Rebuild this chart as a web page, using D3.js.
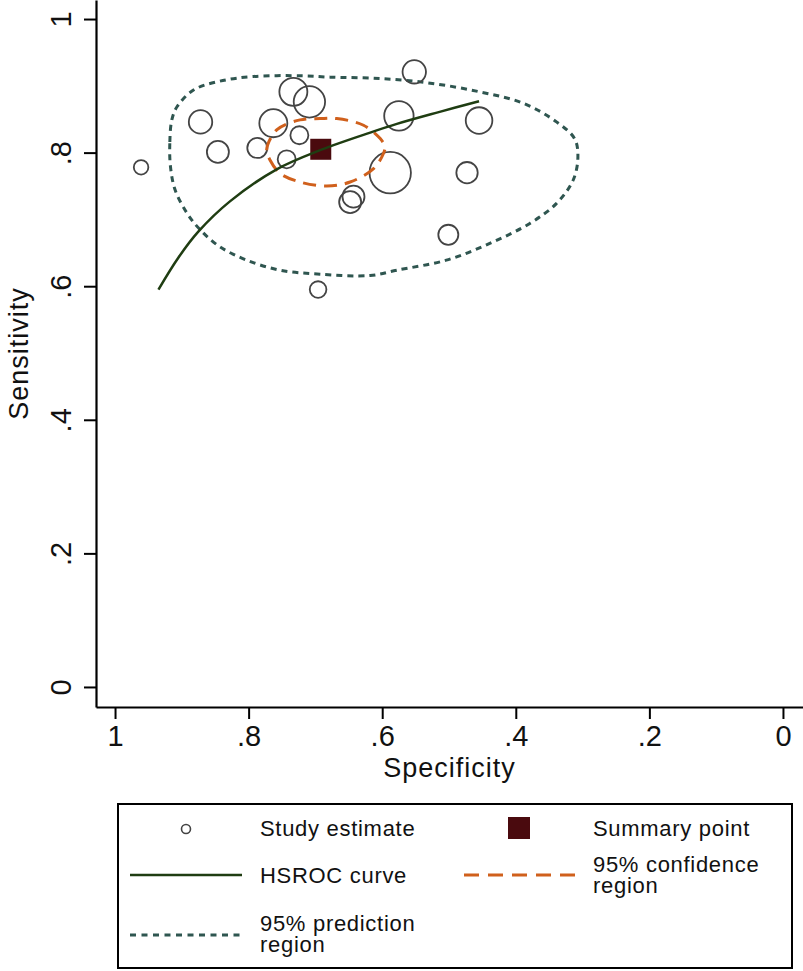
<!DOCTYPE html>
<html>
<head>
<meta charset="utf-8">
<script src="https://cdn.jsdelivr.net/npm/d3@7"></script>
<style>
  html, body { margin: 0; padding: 0; background: #fff; }
  svg { display: block; font-family: "Liberation Sans", Arial, Helvetica, sans-serif; }
</style>
</head>
<body>
<svg id="chart" width="803" height="971"></svg>
<script>
// ---------- data ----------
const studySpec = [0.872, 0.846, 0.961, 0.787, 0.763, 0.733, 0.709, 0.724, 0.743, 0.648, 0.643, 0.696, 0.552, 0.575, 0.455, 0.588, 0.473, 0.501];
const studySens = [0.846, 0.801, 0.778, 0.807, 0.844, 0.891, 0.876, 0.826, 0.790, 0.726, 0.734, 0.595, 0.921, 0.855, 0.848, 0.770, 0.770, 0.677];
const studyWeight = [137, 121, 53, 100, 196, 196, 246, 81, 81, 121, 121, 69, 137, 216, 177, 428, 114, 100];

const summarySpec = 0.692;
const summarySens = 0.805;

const hsrocSpec = [0.935, 0.905, 0.875, 0.828, 0.758, 0.692, 0.618, 0.578, 0.514, 0.455];
const hsrocSens = [0.595, 0.643, 0.682, 0.727, 0.775, 0.804, 0.830, 0.843, 0.861, 0.877];

const confSpec = [0.773, 0.768, 0.753, 0.723, 0.683, 0.648, 0.613, 0.598, 0.596, 0.603, 0.628, 0.668, 0.693, 0.723, 0.758];
const confSens = [0.804, 0.789, 0.769, 0.756, 0.750, 0.756, 0.776, 0.799, 0.809, 0.821, 0.841, 0.851, 0.851, 0.849, 0.834];

const predSpec = [0.915, 0.918, 0.917, 0.910, 0.892, 0.872, 0.843, 0.803, 0.753, 0.693, 0.618, 0.578, 0.504, 0.439, 0.379, 0.339, 0.314, 0.307, 0.312, 0.339, 0.389, 0.454, 0.528, 0.603, 0.678, 0.718, 0.793, 0.843, 0.882, 0.907];
const predSens = [0.849, 0.814, 0.779, 0.744, 0.709, 0.684, 0.659, 0.639, 0.624, 0.618, 0.616, 0.624, 0.639, 0.664, 0.694, 0.724, 0.759, 0.794, 0.821, 0.846, 0.874, 0.891, 0.904, 0.911, 0.913, 0.915, 0.914, 0.907, 0.894, 0.869];

const tickValues = [1, 0.8, 0.6, 0.4, 0.2, 0];
const tickLabels = ["1", ".8", ".6", ".4", ".2", "0"];

const legendLabels = ["Study estimate", "Summary point", "HSROC curve", ["95% confidence", "region"], ["95% prediction", "region"]];

// ---------- styles ----------
const C_PRED = "#2f5650";
const C_HSROC = "#1f3d12";
const C_CONF = "#d0601c";
const C_SUMM = "#4a0a0e";
const C_STUDY = "#444444";

const svg = d3.select("#chart");

const x = d3.scaleLinear().domain([1.0285, -0.03]).range([96, 803]);
const y = d3.scaleLinear().domain([-0.03, 1.0285]).range([707, 0]);
const r = d3.scaleSqrt().domain([0, d3.max(studyWeight)]).range([0, 20.7]);

const fmt = v => tickLabels[tickValues.indexOf(v)];

// x axis
const gx = svg.append("g").attr("transform", `translate(0,${y.range()[0]})`)
  .call(d3.axisBottom(x).tickValues(tickValues).tickFormat(fmt).tickSize(12).tickSizeOuter(0).tickPadding(6));
gx.select(".domain").attr("stroke", "#000").attr("stroke-width", 2.2);
gx.selectAll(".tick line").attr("stroke", "#000").attr("stroke-width", 2);
gx.selectAll(".tick text").attr("font-size", 29).attr("fill", "#111")
  .attr("font-family", "Liberation Sans, Arial, sans-serif");

// y axis
const gy = svg.append("g").attr("transform", `translate(${x.range()[0]},0)`)
  .call(d3.axisLeft(y).tickValues(tickValues).tickFormat(fmt).tickSize(12).tickSizeOuter(0));
gy.select(".domain").attr("stroke", "#000").attr("stroke-width", 2.2);
gy.selectAll(".tick line").attr("stroke", "#000").attr("stroke-width", 2);
gy.selectAll(".tick text")
  .attr("font-size", 29).attr("fill", "#111")
  .attr("font-family", "Liberation Sans, Arial, sans-serif")
  .attr("x", 0).attr("dy", 0).attr("y", -25)
  .attr("text-anchor", "middle")
  .attr("transform", "rotate(-90)");

// axis titles
svg.append("text").attr("x", (x.range()[0] + x.range()[1]) / 2).attr("y", 777)
  .attr("text-anchor", "middle").attr("font-size", 27).attr("letter-spacing", 1)
  .attr("fill", "#111").text("Specificity");
svg.append("text").attr("transform", `translate(28,${(y.range()[0] + y.range()[1]) / 2}) rotate(-90)`)
  .attr("text-anchor", "middle").attr("font-size", 27).attr("letter-spacing", 1)
  .attr("fill", "#111").text("Sensitivity");

// regions
const closedLine = d3.line().x(d => x(d[0])).y(d => y(d[1])).curve(d3.curveCatmullRomClosed.alpha(0.5));
const predPts = predSpec.map((s, i) => [s, predSens[i]]);
const confPts = confSpec.map((s, i) => [s, confSens[i]]);

svg.append("path").attr("d", closedLine(predPts)).attr("fill", "none")
  .attr("stroke", C_PRED).attr("stroke-width", 3).attr("stroke-dasharray", "6,5");

// study circles
svg.append("g").selectAll("circle").data(studySpec.map((s, i) => ({ s, e: studySens[i], w: studyWeight[i] })))
  .join("circle")
  .attr("cx", d => x(d.s)).attr("cy", d => y(d.e)).attr("r", d => r(d.w))
  .attr("fill", "none").attr("stroke", C_STUDY).attr("stroke-width", 1.8);

svg.append("path").attr("d", closedLine(confPts)).attr("fill", "none")
  .attr("stroke", C_CONF).attr("stroke-width", 3).attr("stroke-dasharray", "13,8");

// summary point
svg.append("rect")
  .attr("x", x(summarySpec) - 10.5).attr("y", y(summarySens) - 10.5)
  .attr("width", 21).attr("height", 21).attr("fill", C_SUMM);

// HSROC curve
const openLine = d3.line().x(d => x(d[0])).y(d => y(d[1])).curve(d3.curveCatmullRom.alpha(0.5));
svg.append("path").attr("d", openLine(hsrocSpec.map((s, i) => [s, hsrocSens[i]])))
  .attr("fill", "none").attr("stroke", C_HSROC).attr("stroke-width", 2.5);

// ---------- legend ----------
const lg = svg.append("g").attr("font-size", 22).attr("letter-spacing", 0.7).attr("fill", "#111");
lg.append("rect").attr("x", 118).attr("y", 804).attr("width", 674).attr("height", 164)
  .attr("fill", "#fff").attr("stroke", "#000").attr("stroke-width", 2);

// row 1
lg.append("circle").attr("cx", 186).attr("cy", 829).attr("r", 4.5)
  .attr("fill", "none").attr("stroke", C_STUDY).attr("stroke-width", 1.6);
lg.append("text").attr("x", 260).attr("y", 836).text(legendLabels[0]);
lg.append("rect").attr("x", 508).attr("y", 817).attr("width", 22).attr("height", 22).attr("fill", C_SUMM);
lg.append("text").attr("x", 593).attr("y", 836).text(legendLabels[1]);

// row 2
lg.append("line").attr("x1", 130).attr("x2", 242).attr("y1", 875).attr("y2", 875)
  .attr("stroke", C_HSROC).attr("stroke-width", 2.5);
lg.append("text").attr("x", 260).attr("y", 883).text(legendLabels[2]);
lg.append("line").attr("x1", 464).attr("x2", 575).attr("y1", 875).attr("y2", 875)
  .attr("stroke", C_CONF).attr("stroke-width", 3).attr("stroke-dasharray", "15,9");
lg.append("text").attr("x", 593).attr("y", 872).text(legendLabels[3][0]);
lg.append("text").attr("x", 593).attr("y", 893).text(legendLabels[3][1]);

// row 3
lg.append("line").attr("x1", 130).attr("x2", 242).attr("y1", 935).attr("y2", 935)
  .attr("stroke", C_PRED).attr("stroke-width", 3).attr("stroke-dasharray", "6,5.5");
lg.append("text").attr("x", 260).attr("y", 931).text(legendLabels[4][0]);
lg.append("text").attr("x", 260).attr("y", 952).text(legendLabels[4][1]);
</script>
</body>
</html>
